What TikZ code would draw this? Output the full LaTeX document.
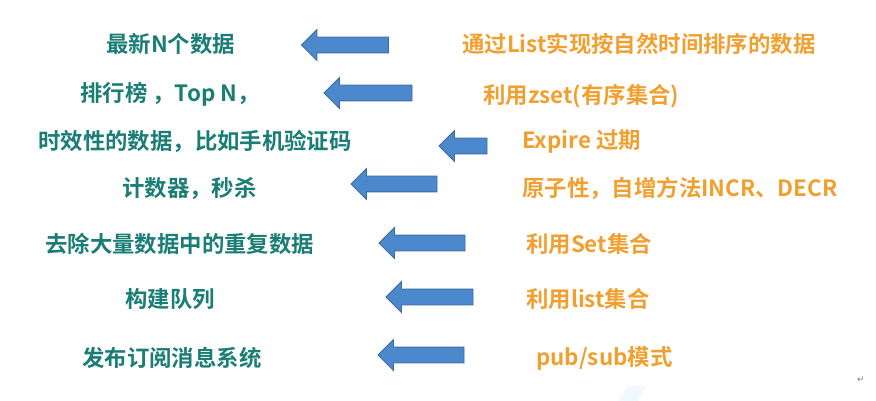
\documentclass[tikz,border=0pt]{standalone}
\usepackage{fontspec}
\newfontfamily\cjk{Noto Sans CJK SC}[BoldFont={Noto Sans CJK SC Bold}]
\newfontfamily\dejavu{DejaVu Sans}
\usetikzlibrary{shapes.arrows}
\definecolor{tealtxt}{HTML}{1A7D76}
\definecolor{orangetxt}{HTML}{F0A030}
\definecolor{arrfill}{HTML}{4C89CC}
\definecolor{arrline}{HTML}{3A6B9E}
\tikzset{
  lefttxt/.style={anchor=west, inner sep=0pt, text=tealtxt, font=\cjk\bfseries\fontsize{22.4}{24}\selectfont},
  righttxt/.style={anchor=west, inner sep=0pt, text=orangetxt, font=\cjk\bfseries\fontsize{22.4}{24}\selectfont},
  blockarrow/.style={single arrow, shape border rotate=180, fill=arrfill, draw=arrline, line width=0.8pt,
    inner xsep=0pt, inner ysep=7.5pt, single arrow head extend=7.5pt, single arrow head indent=0pt,
    single arrow tip angle=90}
}
\begin{document}
\begin{tikzpicture}[x=1pt,y=-1pt]
\useasboundingbox (0,0) rectangle (876,401);
% left texts
\node[lefttxt] (l1) at (106,44) {最新N个数据};
\node[lefttxt] (l2) at (80,94) {排行榜 ，Top N，};
\node[lefttxt] (l3) at (38,141) {时效性的数据，比如手机验证码};
\node[lefttxt] (l4) at (122,188) {计数器，秒杀};
\node[lefttxt] (l5) at (45,244) {去除大量数据中的重复数据};
\node[lefttxt] (l6) at (125,299) {构建队列};
\node[lefttxt] (l7) at (82,358) {发布订阅消息系统};
% right texts
\node[righttxt] (r1) at (462,44) {通过List实现按自然时间排序的数据};
\node[righttxt] (r2) at (483,96) {利用zset(有序集合)};
\node[righttxt] (r3) at (522,141) {Expire 过期};
\node[righttxt] (r4) at (522,188) {原子性，自增方法INCR、DECR};
\node[righttxt] (r5) at (526,244) {利用Set集合};
\node[righttxt] (r6) at (526,299) {利用list集合};
\node[righttxt] (r7) at (536,358) {pub/sub模式};
% arrows
\node[blockarrow, minimum height=87pt] (a1) at (349,45) {};
\node[blockarrow, minimum height=88pt] (a2) at (372,93) {};
\node[blockarrow, minimum height=48pt] (a3) at (467,146) {};
\node[blockarrow, minimum height=86pt] (a4) at (398,184) {};
\node[blockarrow, minimum height=86pt] (a5) at (426,243) {};
\node[blockarrow, minimum height=87pt] (a6) at (433.5,297) {};
\node[blockarrow, minimum height=86pt] (a7) at (425,355) {};
% faint watermark and return mark
\fill[cyan!6] (618,401) -- (628,386) -- (646,386) -- (638,401) -- cycle;
\node[text=gray, font=\dejavu\fontsize{9}{10}\selectfont, inner sep=0pt] (ret) at (861,380) {↵};
\end{tikzpicture}
\end{document}
